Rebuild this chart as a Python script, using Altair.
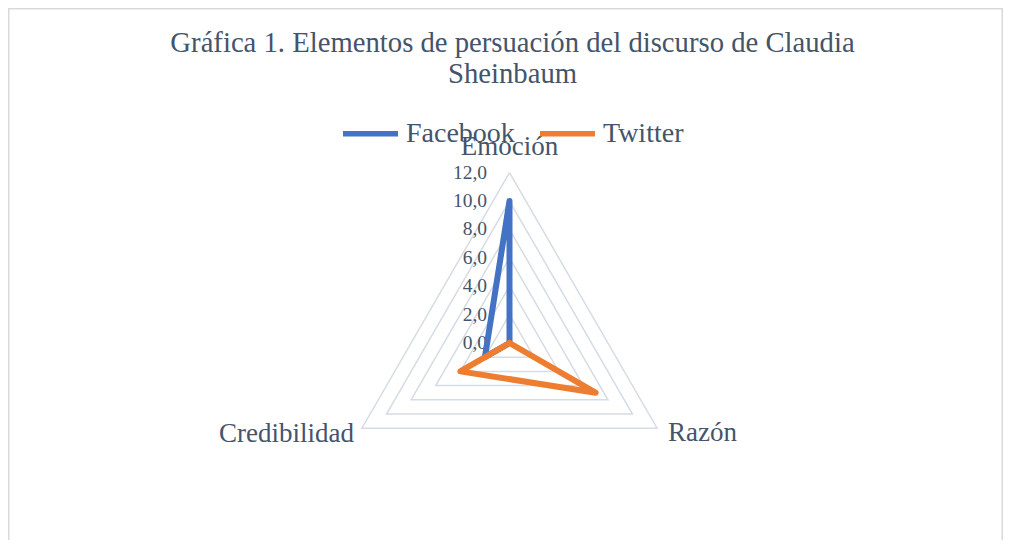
import altair as alt
import pandas as pd

# ---- data ----
categories = ["Emoción", "Razón", "Credibilidad"]
facebook = [10.0, 0.0, 2.0]
twitter = [0.0, 7.0, 4.0]
series_names = ["Facebook", "Twitter"]
series_colors = ["#4472C4", "#ED7D31"]
grid_levels = [2, 4, 6, 8, 10, 12]
tick_values = [0, 2, 4, 6, 8, 10, 12]
tick_labels = ["0,0", "2,0", "4,0", "6,0", "8,0", "10,0", "12,0"]
title_lines = ["Gráfica 1. Elementos de persuación del discurso de Claudia", "Sheinbaum"]

FONT = "Liberation Serif"
TEXT = "#44546A"
GRID = "#D6DCE4"

n = len(categories)
rows = []
for name, vals in zip(series_names, [facebook, twitter]):
    for i in range(n + 1):
        rows.append({"serie": name, "categoria": categories[i % n],
                     "valor": vals[i % n], "idx": i})
series_df = pd.DataFrame(rows)
grid_df = pd.DataFrame([{"nivel": l, "idx": i, "valor": l}
                        for l in grid_levels for i in range(n + 1)])
tick_df = pd.DataFrame({"valor": tick_values, "etiqueta": tick_labels, "idx": 0})
cat_df = pd.DataFrame({"categoria": categories, "idx": list(range(n)),
                       "valor": [max(grid_levels)] * n})

W, H = 995, 532
UNIT = 14.2
CX, CY = 501.5, 335.0
xs = alt.Scale(domain=[-CX / UNIT, (W - CX) / UNIT], nice=False, zero=False)
ys = alt.Scale(domain=[-(H - CY) / UNIT, CY / UNIT], nice=False, zero=False)

ang = f"datum.idx * 2 * PI / {n}"


def polar(ch):
    return ch.transform_calculate(
        px=f"datum.valor * sin({ang})",
        py=f"datum.valor * cos({ang})",
    )


X = alt.X("px:Q", scale=xs, axis=None)
Y = alt.Y("py:Q", scale=ys, axis=None)

grid = polar(alt.Chart(grid_df)).mark_line(color=GRID, strokeWidth=1.5).encode(
    x=X, y=Y, detail="nivel:N", order="idx:Q")

ticks = polar(alt.Chart(tick_df)).mark_text(
    font=FONT, fontSize=19.5, color=TEXT, align="right", baseline="alphabetic",
    dx=-22.5, dy=6).encode(x=X, y=Y, text="etiqueta:N")

color = alt.Color("serie:N", scale=alt.Scale(domain=series_names, range=series_colors),
                  legend=alt.Legend(orient="none", legendX=332, legendY=95,
                                    direction="horizontal", title=None,
                                    symbolType="stroke", symbolStrokeWidth=5.5,
                                    symbolSize=3025, labelFont=FONT,
                                    labelFontSize=28, labelColor=TEXT,
                                    labelOffset=5, columnPadding=14, padding=0))


def serie_layer(name):
    return polar(alt.Chart(series_df)).transform_filter(
        alt.datum.serie == name).mark_line(
        strokeWidth=6, strokeCap="round", strokeJoin="round").encode(
        x=X, y=Y, color=color, order="idx:Q")


def cat_layer(cat, align, dx, dy):
    return polar(alt.Chart(cat_df)).transform_filter(
        alt.datum.categoria == cat).mark_text(
        font=FONT, fontSize=27, color=TEXT, align=align, baseline="alphabetic",
        dx=dx, dy=dy).encode(x=X, y=Y, text="categoria:N")


border_src = alt.Data(values=[{"k": 1}])
BORDER = "#D9D9D9"
b_left = alt.Chart(border_src).mark_rule(color=BORDER, strokeWidth=1.5).encode(
    x=alt.value(0.75), y=alt.value(0), y2=alt.value(H))
b_right = alt.Chart(border_src).mark_rule(color=BORDER, strokeWidth=1.5).encode(
    x=alt.value(W - 0.75), y=alt.value(0), y2=alt.value(H))
b_top = alt.Chart(border_src).mark_rule(color=BORDER, strokeWidth=1.5).encode(
    x=alt.value(0), x2=alt.value(W), y=alt.value(0.75))

chart = alt.layer(
    b_left, b_right, b_top, grid, ticks,
    serie_layer("Facebook"), serie_layer("Twitter"),
    cat_layer("Emoción", "center", 0, -17.7),
    cat_layer("Razón", "left", 11, 13),
    cat_layer("Credibilidad", "right", -8, 13.4),
).properties(
    width=W, height=H, padding=0, autosize="none", background="white",
    title=alt.TitleParams(text=title_lines, font=FONT, fontSize=28.7, color=TEXT,
                          fontWeight="normal", anchor="middle", frame="group",
                          lineHeight=30.5, offset=0, dy=81, dx=7),
).configure_view(stroke=None)

chart.save("out.html", embed_options={"renderer": "svg", "actions": False})
